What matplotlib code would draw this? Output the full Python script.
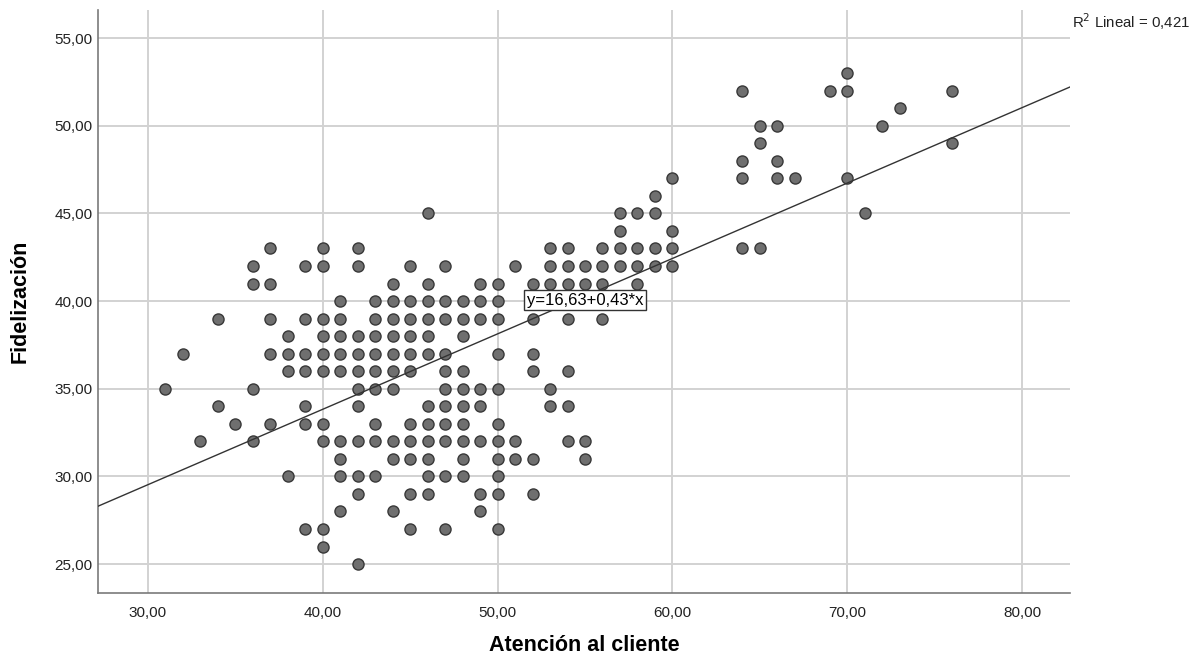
import matplotlib
matplotlib.use("Agg")
import matplotlib.pyplot as plt
from matplotlib.ticker import FuncFormatter, MultipleLocator
import numpy as np

# Atención al cliente (x) and the Fidelización values seen at each x
x_levels = [31, 32, 33, 34, 35, 36, 37, 38, 39, 40,
            41, 42, 43, 44, 45, 46, 47, 48, 49, 50,
            51, 52, 53, 54, 55, 56, 57, 58, 59, 60,
            64, 65, 66, 67, 69, 70, 71, 72, 73, 76]
y_at_level = [
    [35], [37], [32], [39, 34], [33],
    [42, 41, 35, 32],
    [43, 41, 39, 37, 33],
    [38, 37, 36, 30],
    [42, 39, 37, 36, 34, 33, 27],
    [43, 42, 39, 38, 37, 36, 33, 32, 27, 26],
    [40, 39, 38, 37, 36, 32, 31, 30, 28],
    [43, 42, 38, 37, 36, 35, 34, 32, 30, 29, 25],
    [40, 39, 38, 37, 36, 35, 33, 32, 30],
    [41, 40, 39, 38, 37, 36, 35, 32, 31, 28],
    [42, 40, 39, 38, 37, 36, 33, 32, 31, 29, 27],
    [45, 41, 40, 39, 38, 37, 34, 33, 32, 31, 30, 29],
    [42, 40, 39, 37, 36, 35, 34, 33, 32, 30, 27],
    [40, 39, 38, 36, 35, 34, 33, 32, 31, 30],
    [41, 40, 39, 35, 34, 32, 29, 28],
    [41, 40, 39, 37, 35, 33, 32, 31, 30, 29, 27],
    [42, 32, 31],
    [41, 39, 37, 36, 31, 29],
    [43, 42, 41, 35, 34],
    [43, 42, 41, 39, 36, 34, 32],
    [42, 41, 32, 31],
    [43, 42, 41, 39],
    [45, 44, 43, 42],
    [45, 43, 42, 41],
    [46, 45, 43, 42],
    [47, 44, 43, 42],
    [52, 48, 47, 43],
    [50, 49, 43],
    [50, 48, 47],
    [47],
    [52],
    [53, 52, 47],
    [45],
    [50],
    [51],
    [52, 49],
]

intercept = 16.63
slope = 0.43
r2 = "0,421"

xs = []
ys = []
for xv, group in zip(x_levels, y_at_level):
    for yv in group:
        xs.append(xv)
        ys.append(yv)

plt.rcParams['font.family'] = ['Liberation Sans', 'DejaVu Sans']

fig = plt.figure(figsize=(11.98, 6.6), dpi=100)
ax = fig.add_axes([0.0818, 0.1015, 0.8114, 0.8833])

ax.set_xlim(27.14, 82.75)
ax.set_ylim(23.35, 56.6)

ax.xaxis.set_major_locator(MultipleLocator(10))
ax.yaxis.set_major_locator(MultipleLocator(5))
comma = FuncFormatter(lambda v, pos: f"{v:.2f}".replace('.', ','))
ax.xaxis.set_major_formatter(comma)
ax.yaxis.set_major_formatter(comma)

ax.grid(True, color='#d2d2d2', linewidth=1.4, zorder=0)
ax.set_axisbelow(True)
for side in ('top', 'right'):
    ax.spines[side].set_visible(False)
for side in ('left', 'bottom'):
    ax.spines[side].set_color('#7a7a7a')
    ax.spines[side].set_linewidth(1.2)
ax.tick_params(length=0, labelsize=11, colors='#222222')
ax.tick_params(axis='x', pad=9)
ax.tick_params(axis='y', pad=4)

ax.scatter(xs, ys, s=64, facecolor='#6f6f6f', edgecolor='#383838',
           linewidth=1.0, zorder=3)

lx = np.array(ax.get_xlim())
ax.plot(lx, intercept + slope * lx, color='#333333', linewidth=1.0, zorder=4)

ax.text(55.0, 40.05, "y=16,63+0,43*x", fontsize=12, ha='center', va='center',
        zorder=5,
        bbox=dict(boxstyle='square,pad=0.15', facecolor='white',
                  edgecolor='#333333', linewidth=1.0))

ax.set_xlabel("Atención al cliente", fontsize=15.5, fontweight='bold', labelpad=11)
ax.set_ylabel("Fidelización", fontsize=15.5, fontweight='bold', labelpad=17)

fig.text(1072 / 1198, 1 - 22 / 660, "R$^2$ Lineal = " + r2, fontsize=10.8,
         ha='left', va='center', color='#222222')

fig.savefig("out.png", dpi=100)
